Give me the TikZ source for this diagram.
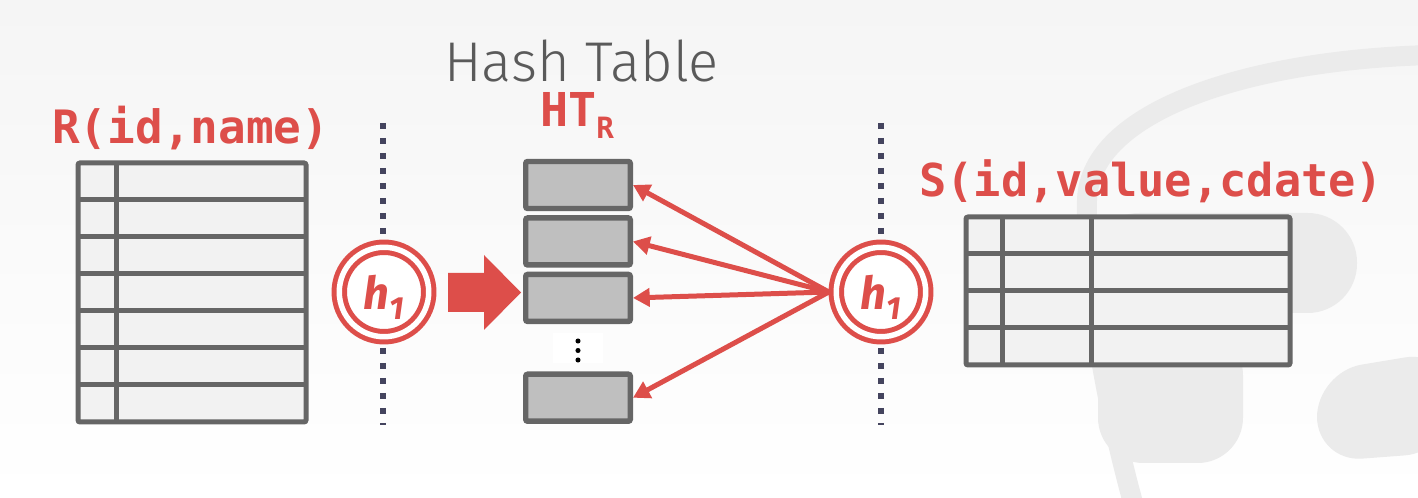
\documentclass[tikz,border=0pt]{standalone}
\usepackage{fontspec}
\usetikzlibrary{arrows.meta, positioning}
\newfontfamily\monofont{DejaVu Sans Mono}
\newfontfamily\hfont{Fira Sans}
\newfontfamily\lightfont{Fira Sans Light}
\definecolor{slidered}{RGB}{221, 78, 74}
\definecolor{tablegray}{RGB}{102, 102, 102}
\definecolor{cellfill}{RGB}{242, 242, 242}
\definecolor{bucketfill}{RGB}{191, 191, 191}
\definecolor{dotnavy}{RGB}{68, 68, 94}
\definecolor{logogray}{RGB}{235, 235, 235}
\definecolor{bgtop}{RGB}{245, 245, 245}
\definecolor{titlegray}{RGB}{90, 90, 90}
\newcommand{\hlabel}{\hfont\bfseries\itshape\fontsize{34}{34}\selectfont h\raisebox{-8pt}{\fontsize{24}{24}\selectfont 1}}

\tikzset{
    tableframe/.style={draw=tablegray, fill=cellfill, line width=3.75pt, rounded corners=1.5pt},
    tablerule/.style={draw=tablegray, line width=3.75pt},
    bucket/.style={draw=tablegray, fill=bucketfill, line width=4.1pt, rounded corners=1.5pt,
        minimum width=78.4pt, minimum height=35.25pt, inner sep=0pt},
    hashfn/.style={circle, draw=slidered, line width=3.75pt, double=white, double distance=4.1pt,
        fill=white, minimum size=67.1pt, inner sep=0pt, outer sep=5.6pt, text=slidered, text depth=0pt},
    divider/.style={draw=dotnavy, line width=4.5pt, dash pattern=on 4.5pt off 6.75pt},
    probe/.style={draw=slidered, line width=3.75pt, -{Triangle[length=12.5pt, width=13.5pt]}},
    rellabel/.style={anchor=base west, inner sep=0pt, text=slidered,
        font=\monofont\bfseries\fontsize{34.5}{40}\selectfont}
}

\begin{document}
\begin{tikzpicture}[x=0.75pt, y=-0.75pt, node distance=3pt]
    % background and faint logo
    \useasboundingbox (0,0) rectangle (1418,498);
    \fill[top color=bgtop, bottom color=white] (0,0) rectangle (1418,498);
    \fill[logogray, rounded corners=37pt] (1090,213) rectangle (1357,313);
    \fill[logogray, rounded corners=34pt] (1098,330) rectangle (1243,463);
    \fill[logogray, rounded corners=34pt] (1317,372) -- (1450,350) -- (1450,452) -- (1317,462) -- cycle;
    \draw[logogray, line width=15pt] (1430,55) .. controls (1250,60) and (1090,110) .. (1087,200)
        .. controls (1085,300) and (1110,420) .. (1135,510);

    % relation R
    \node[rellabel] (rlabel) at (52,144) {R(id,name)};
    \draw[tableframe] (78,163) rectangle (306,422);
    \foreach \y in {200,237,...,385}
        \draw[tablerule] (78,\y) -- (306,\y);
    \draw[tablerule] (116,163) -- (116,422);

    % relation S
    \node[rellabel, font=\monofont\bfseries\fontsize{34}{40}\selectfont] (slabel) at (919,197) {S(id,value,cdate)};
    \draw[tableframe] (966,217) rectangle (1290,365);
    \foreach \y in {254,291,328}
        \draw[tablerule] (966,\y) -- (1290,\y);
    \foreach \x in {1002,1091}
        \draw[tablerule] (\x,217) -- (\x,365);

    % dividers and hash functions
    \draw[divider] (383,123) -- (383,425);
    \draw[divider] (881,123) -- (881,425);
    \node[hashfn] (hleft) at (384,292) {\hlabel};
    \node[hashfn] (hright) at (881,292) {\hlabel};

    % hash table
    \node[anchor=base west, inner sep=0pt, text depth=0pt, text=titlegray, font=\lightfont\fontsize{42}{48}\selectfont] (httitle) at (444,82) {Hash Table};
    \node[anchor=base west, inner sep=0pt, text height=25pt, text=slidered, font=\monofont\bfseries\fontsize{35}{40}\selectfont] (htname) at (540,127)
        {HT\raisebox{-9pt}{\fontsize{22}{22}\selectfont R}};
    \node[bucket] (b1) at (578,185) {};
    \node[bucket, below=of b1] (b2) {};
    \node[bucket, below=of b2] (b3) {};
    \node[fill=white, minimum width=37.5pt, minimum height=22.5pt, inner sep=0pt, below=6.3pt of b3] (gap) {};
    \foreach \y in {341,350.5,360}
        \fill (578,\y) circle (1.9pt);
    \node[bucket, below=6.3pt of gap] (b4) {};

    % build side
    \fill[slidered] (448,273) -- (484,273) -- (484,255) -- (521,292.5) -- (484,330) -- (484,312) -- (448,312) -- cycle;

    % probe side
    \foreach \b in {b1,b2,b3,b4}
        \draw[probe] (hright.west) -- (\b.east);
\end{tikzpicture}
\end{document}
